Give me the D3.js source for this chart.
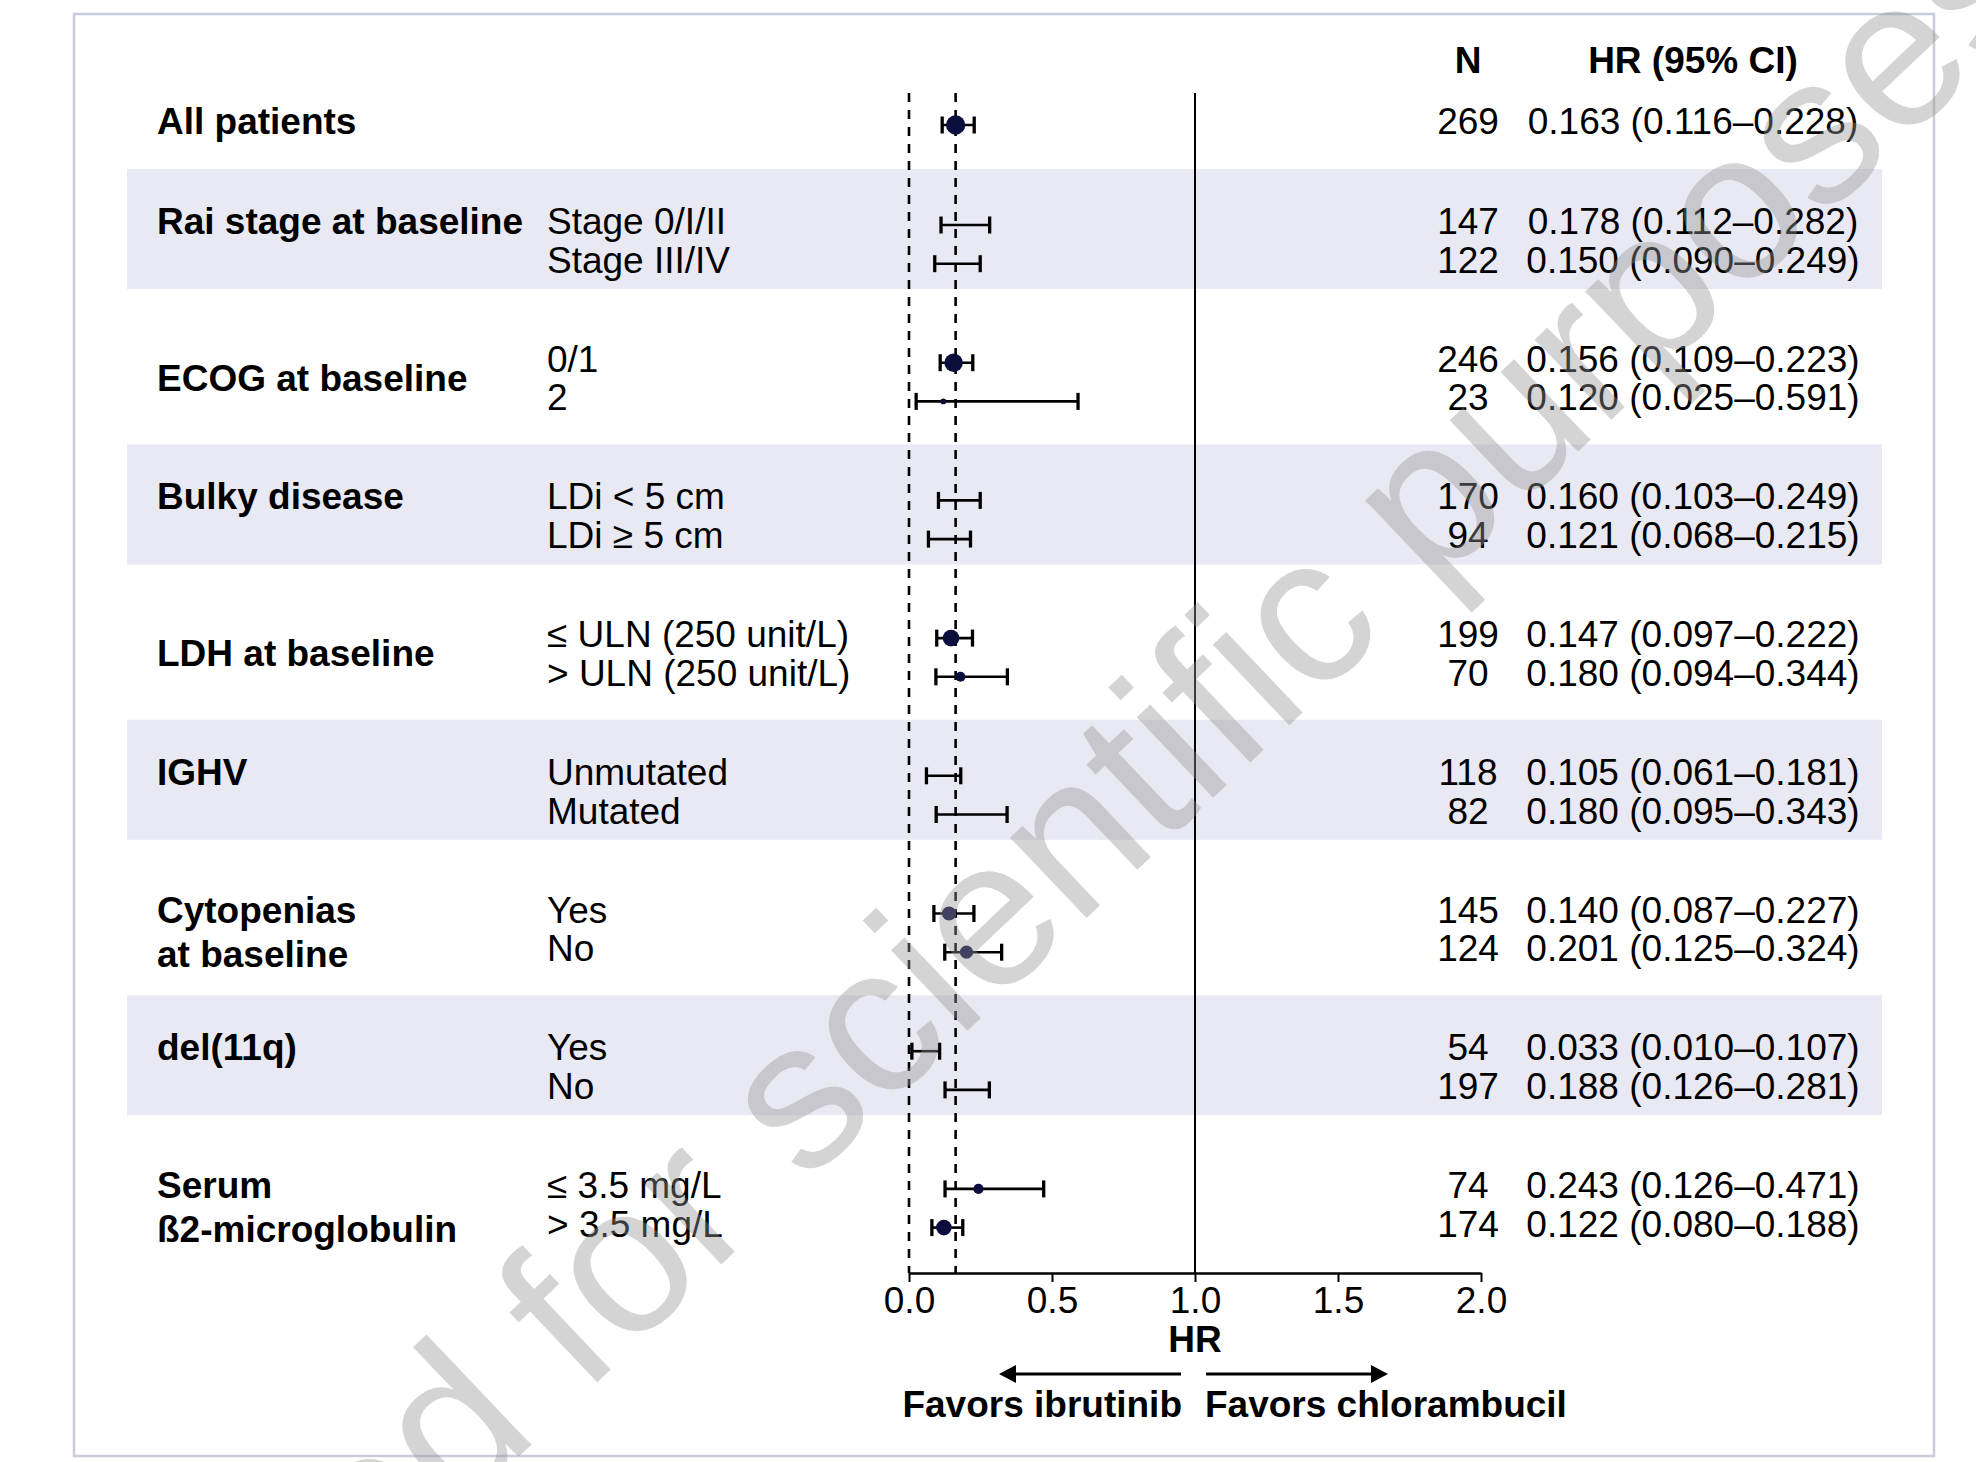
<!DOCTYPE html>
<html>
<head>
<meta charset="utf-8">
<script src="https://cdn.jsdelivr.net/npm/d3@7"></script>
<style>
  body { margin: 0; background: #fff; }
  svg { display: block; font-family: "Liberation Sans", Arial, sans-serif; }
</style>
</head>
<body>
<div id="chart"></div>
<script>
// Subgroup categories (in drawing order, below "All patients")
const groups = ["Rai", "ECOG", "Bulky", "LDH", "IGHV", "Cyto", "del11q", "B2M"];
const groupLabels = [
    ["Rai stage at baseline"],
    ["ECOG at baseline"],
    ["Bulky disease"],
    ["LDH at baseline"],
    ["IGHV"],
    ["Cytopenias", "at baseline"],
    ["del(11q)"],
    ["Serum", "ß2-microglobulin"]
];

// One entry per row
const rowGroup = ["All", "Rai", "Rai", "ECOG", "ECOG", "Bulky", "Bulky", "LDH", "LDH",
    "IGHV", "IGHV", "Cyto", "Cyto", "del11q", "del11q", "B2M", "B2M"];
const rowLabel = ["", "Stage 0/I/II", "Stage III/IV", "0/1", "2", "LDi < 5 cm", "LDi ≥ 5 cm",
    "≤ ULN (250 unit/L)", "> ULN (250 unit/L)", "Unmutated", "Mutated", "Yes", "No",
    "Yes", "No", "≤ 3.5 mg/L", "> 3.5 mg/L"];
const nPatients = [269, 147, 122, 246, 23, 170, 94, 199, 70, 118, 82, 145, 124, 54, 197, 74, 174];
const hrEst = [0.163, 0.178, 0.150, 0.156, 0.120, 0.160, 0.121, 0.147, 0.180, 0.105, 0.180,
    0.140, 0.201, 0.033, 0.188, 0.243, 0.122];
const ciLow = [0.116, 0.112, 0.090, 0.109, 0.025, 0.103, 0.068, 0.097, 0.094, 0.061, 0.095,
    0.087, 0.125, 0.010, 0.126, 0.126, 0.080];
const ciHigh = [0.228, 0.282, 0.249, 0.223, 0.591, 0.249, 0.215, 0.222, 0.344, 0.181, 0.343,
    0.227, 0.324, 0.107, 0.281, 0.471, 0.188];
const xTicks = [0, 0.5, 1, 1.5, 2];

const W = 1976, H = 1462;
const FS = 37;
const FONT = "Liberation Sans, Arial, sans-serif";

const svg = d3.select("#chart").append("svg")
    .attr("width", W)
    .attr("height", H)
    .attr("font-family", FONT);

// scales
const x = d3.scaleLinear().domain([0, 2]).range([909, 1481]);
const yGroup = d3.scalePoint().domain(groups).range([225, 225 + 7 * 137.7]);
const rowStep = 38.7;
const r = d3.scaleSqrt().domain([0, 269]).range([0, 9.7]);

// build rows
const rows = rowGroup.map((g, i) => {
    const first = rowGroup.indexOf(g);
    return {
        group: g,
        label: rowLabel[i],
        n: nPatients[i],
        hr: hrEst[i],
        lo: ciLow[i],
        hi: ciHigh[i],
        y: g === "All" ? 125 : yGroup(g) + (i - first) * rowStep
    };
});
const shaded = g => groups.indexOf(g) % 2 === 0;

// frame
svg.append("rect")
    .attr("x", 74).attr("y", 14)
    .attr("width", 1860).attr("height", 1442)
    .attr("fill", "none")
    .attr("stroke", "#c9cdda")
    .attr("stroke-width", 2.5);

// shaded bands
svg.selectAll(".band")
    .data(groups.filter(shaded))
    .enter()
    .append("rect")
    .attr("class", "band")
    .attr("x", 127)
    .attr("y", d => yGroup(d) - 56)
    .attr("width", 1755)
    .attr("height", 120)
    .attr("fill", "#e9e9f3");

// headers
svg.append("text").attr("x", 1468).attr("y", 73)
    .attr("text-anchor", "middle").attr("font-weight", "bold").attr("font-size", FS)
    .text("N");
svg.append("text").attr("x", 1693).attr("y", 73)
    .attr("text-anchor", "middle").attr("font-weight", "bold").attr("font-size", FS)
    .text("HR (95% CI)");

// group labels
svg.append("text").attr("x", 157).attr("y", 125 + 9)
    .attr("font-weight", "bold").attr("font-size", FS)
    .text("All patients");

groups.forEach((g, i) => {
    const lines = groupLabels[i];
    let y0;
    if (lines.length > 1 || shaded(g)) y0 = yGroup(g);
    else y0 = yGroup(g) + rowStep / 2;
    lines.forEach((t, j) => {
        svg.append("text")
            .attr("x", 157)
            .attr("y", y0 + 9 + j * 44)
            .attr("font-weight", "bold")
            .attr("font-size", FS)
            .text(t);
    });
});

// subgroup labels, N, HR text
const fmt = d3.format(".3f");
const txt = svg.append("g").attr("font-size", FS);
txt.selectAll(".sub").data(rows).enter().append("text")
    .attr("x", 547).attr("y", d => d.y + 9)
    .text(d => d.label);
txt.selectAll(".n").data(rows).enter().append("text")
    .attr("x", 1468).attr("y", d => d.y + 9)
    .attr("text-anchor", "middle")
    .text(d => d.n);
txt.selectAll(".hr").data(rows).enter().append("text")
    .attr("x", 1693).attr("y", d => d.y + 9)
    .attr("text-anchor", "middle")
    .text(d => `${fmt(d.hr)} (${fmt(d.lo)}–${fmt(d.hi)})`);

// reference lines
const axisY = 1273;
svg.append("line")
    .attr("x1", x(1)).attr("x2", x(1))
    .attr("y1", 93).attr("y2", axisY)
    .attr("stroke", "#000").attr("stroke-width", 2);
[0, hrEst[0]].forEach(v => {
    svg.append("line")
        .attr("x1", x(v)).attr("x2", x(v))
        .attr("y1", 93).attr("y2", axisY)
        .attr("stroke", "#000").attr("stroke-width", 2.6)
        .attr("stroke-dasharray", "9,8");
});

// error bars
const bars = svg.selectAll(".ci").data(rows).enter().append("g").attr("class", "ci");
bars.append("line")
    .attr("x1", d => x(d.lo)).attr("x2", d => x(d.hi))
    .attr("y1", d => d.y).attr("y2", d => d.y)
    .attr("stroke", "#000").attr("stroke-width", 2.6);
bars.append("line")
    .attr("x1", d => x(d.lo)).attr("x2", d => x(d.lo))
    .attr("y1", d => d.y - 8.5).attr("y2", d => d.y + 8.5)
    .attr("stroke", "#000").attr("stroke-width", 3.3);
bars.append("line")
    .attr("x1", d => x(d.hi)).attr("x2", d => x(d.hi))
    .attr("y1", d => d.y - 8.5).attr("y2", d => d.y + 8.5)
    .attr("stroke", "#000").attr("stroke-width", 3.3);

// point estimates (only visible outside shaded bands)
svg.selectAll(".pt")
    .data(rows.filter(d => d.group === "All" || !shaded(d.group)))
    .enter()
    .append("circle")
    .attr("class", "pt")
    .attr("cx", d => x(d.hr))
    .attr("cy", d => d.y)
    .attr("r", d => r(d.n))
    .attr("fill", "#0b0d3d");

// x axis
const axis = svg.append("g")
    .attr("transform", `translate(0,${axisY})`)
    .call(d3.axisBottom(x).tickValues(xTicks).tickFormat(d3.format(".1f"))
        .tickSize(9).tickSizeOuter(0).tickPadding(5));
axis.select(".domain").attr("stroke", "#000").attr("stroke-width", 2.7);
axis.selectAll(".tick line").attr("stroke", "#000").attr("stroke-width", 2);
axis.selectAll(".tick text")
    .attr("font-size", FS)
    .attr("font-family", FONT)
    .attr("fill", "#000");

svg.append("text").attr("x", x(1)).attr("y", 1352)
    .attr("text-anchor", "middle").attr("font-weight", "bold").attr("font-size", FS)
    .text("HR");

// favours arrows
const arrowY = 1374;
function arrow(x1, x2) {
    const dir = Math.sign(x2 - x1);
    svg.append("line")
        .attr("x1", x1).attr("x2", x2 - dir * 14)
        .attr("y1", arrowY).attr("y2", arrowY)
        .attr("stroke", "#000").attr("stroke-width", 3.2);
    svg.append("path")
        .attr("d", `M${x2},${arrowY} L${x2 - dir * 17},${arrowY - 9} L${x2 - dir * 17},${arrowY + 9} Z`)
        .attr("fill", "#000");
}
arrow(x(1) - 14, x(1) - 196);
arrow(x(1) + 11, x(1) + 193);

svg.append("text").attr("x", x(1) - 13).attr("y", 1417)
    .attr("text-anchor", "end").attr("font-weight", "bold").attr("font-size", FS)
    .text("Favors ibrutinib");
svg.append("text").attr("x", x(1) + 10).attr("y", 1417)
    .attr("font-weight", "bold").attr("font-size", FS)
    .text("Favors chlorambucil");

// watermark
const wm = svg.append("g")
    .attr("transform", "translate(805,1185) rotate(-43.5)")
    .attr("font-size", 210)
    .attr("fill", "#939393")
    .attr("fill-opacity", 0.4);
wm.append("text").attr("x", -60).attr("text-anchor", "end").text("Provided for");
wm.append("text").attr("x", 0).text("scientific purposes");
</script>
</body>
</html>
